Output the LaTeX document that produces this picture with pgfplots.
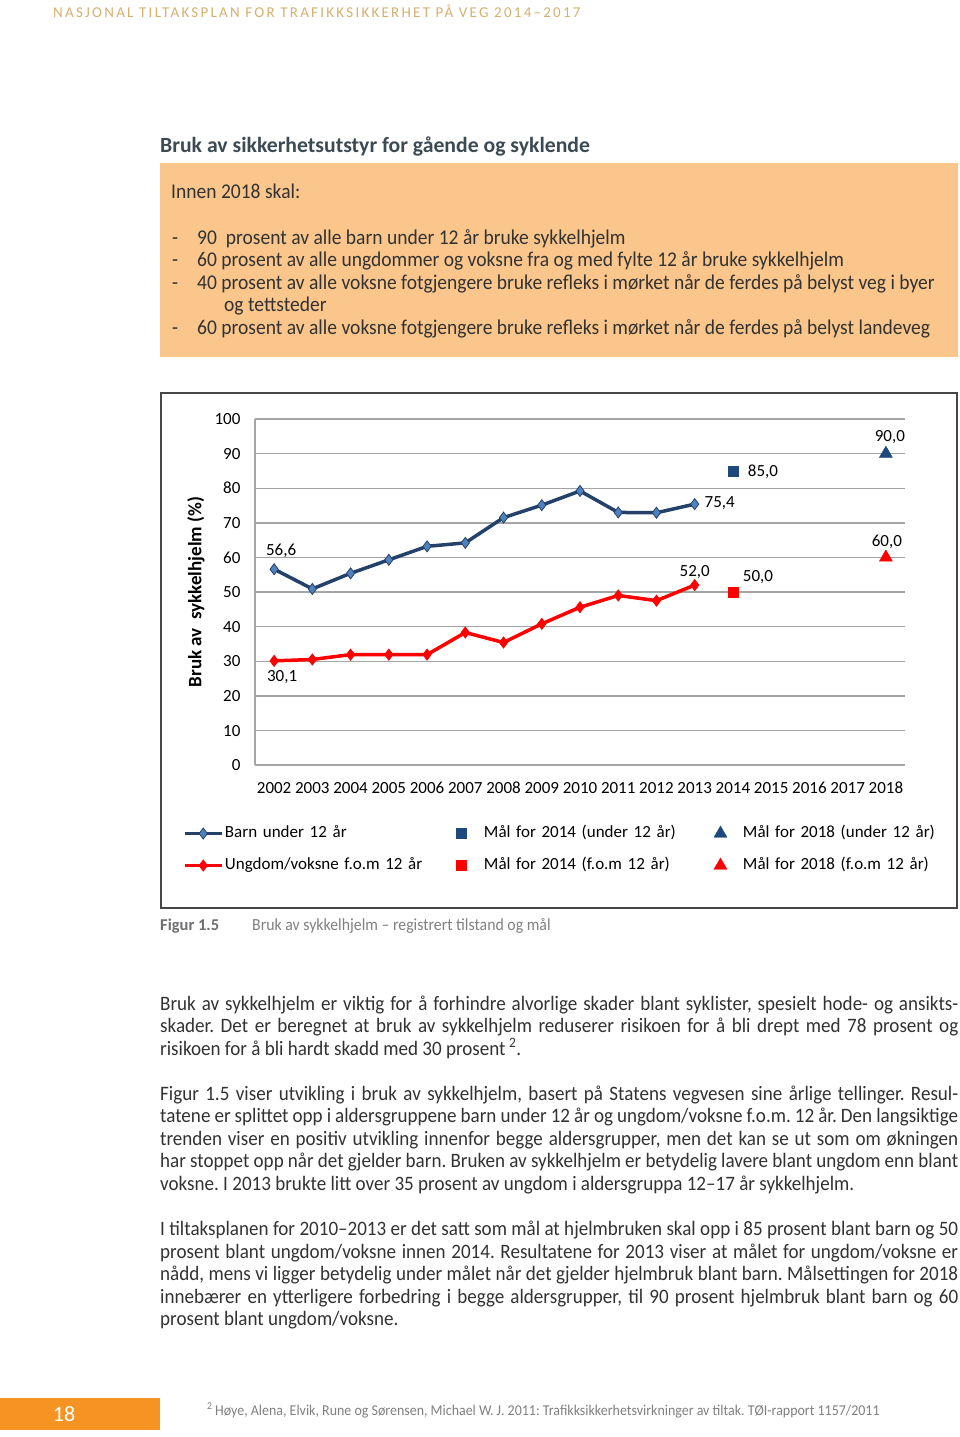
\documentclass[border=0pt]{standalone}
\usepackage{pgfplots}
\pgfplotsset{compat=1.18}
\usepackage{fontspec}
\setmainfont{Carlito}
\newfontfamily\bodyfont[FakeStretch=0.93]{Carlito}
\newfontfamily\headfont[LetterSpace=15]{Carlito}
\newfontfamily\chartfont{Carlito}
\frenchspacing
\definecolor{navy}{RGB}{36,66,105}
\definecolor{steel}{RGB}{79,129,189}
\definecolor{navyM}{RGB}{31,73,125}
\definecolor{boxor}{RGB}{250,198,140}
\definecolor{hdr}{RGB}{214,176,110}
\definecolor{ttl}{RGB}{60,74,84}
\definecolor{txt}{RGB}{50,50,50}
\definecolor{capg}{RGB}{110,110,113}
\definecolor{capl}{RGB}{128,128,130}
\definecolor{footor}{RGB}{245,148,35}
\definecolor{gridg}{RGB}{165,165,165}
\pgfplotsset{
 linelegend/.style={legend image code/.code={\draw[mark repeat=2,mark phase=2,##1] plot coordinates {(0pt,0pt) (18.5pt,0pt) (37pt,0pt)};}},
 marklegend/.style={legend image code/.code={\path[draw=none,fill=none] (0pt,0pt) -- (30pt,0pt); \draw[##1] plot coordinates {(9pt,0pt)};}},
}
\newcommand\bfs{\bodyfont\fontsize{20.5}{24}\selectfont}
\newcommand\xfs{\bodyfont\fontsize{21}{24}\selectfont}
\newcommand\cfs{\chartfont\fontsize{17}{20}\selectfont}
\newcommand\jline[2]{\node[anchor=base west,inner sep=0pt,text=txt,font=\bfs] at (160pt,-#1pt) {\hbox to 798pt{#2}};}
\newcommand\nline[3][160]{\node[anchor=base west,inner sep=0pt,text=txt,font=\bfs] at (#1pt,-#2pt) {#3};}
\newcommand\bline[3][160]{\node[anchor=base west,inner sep=0pt,text=txt,font=\xfs] at (#1pt,-#2pt) {#3};}
\begin{document}
\frenchspacing
\begin{tikzpicture}
\path[use as bounding box, fill=white] (0pt,0pt) rectangle (960pt,-1437pt);
% header
\node[anchor=base west,inner sep=0pt,text=hdr,font=\headfont\fontsize{15}{16}\selectfont] at (53pt,-18pt) {NASJONAL TILTAKSPLAN FOR TRAFIKKSIKKERHET PÅ VEG 2014–2017};
% title
\node[anchor=base west,inner sep=0pt,text=ttl,font=\chartfont\bfseries\fontsize{21.7}{24}\selectfont] at (160pt,-152pt) {Bruk av sikkerhetsutstyr for gående og syklende};
% orange box
\fill[boxor] (160pt,-163pt) rectangle (958pt,-357pt);
\bline[171]{198}{Innen 2018 skal:}
\bline[172]{244}{-}\bline[197]{244}{90\ \ prosent av alle barn under 12 år bruke sykkelhjelm}
\bline[172]{266.5}{-}\bline[197]{266.5}{60 prosent av alle ungdommer og voksne fra og med fylte 12 år bruke sykkelhjelm}
\bline[172]{289}{-}\bline[197]{289}{40 prosent av alle voksne fotgjengere bruke refleks i mørket når de ferdes på belyst veg i byer}
\bline[224]{311.5}{og tettsteder}
\bline[172]{334}{-}\bline[197]{334}{60 prosent av alle voksne fotgjengere bruke refleks i mørket når de ferdes på belyst landeveg}
% chart frame
\draw[black!72, line width=1.6pt] (161pt,-393pt) rectangle (957pt,-908pt);
\begin{axis}[
 at={(255pt,-765pt)}, anchor=south west,
 scale only axis, width=650pt, height=346pt,
 xmin=2001.5, xmax=2018.5, ymin=0, ymax=100,
 xtick={2002,2003,2004,2005,2006,2007,2008,2009,2010,2011,2012,2013,2014,2015,2016,2017,2018},
 xticklabels={2002,2003,2004,2005,2006,2007,2008,2009,2010,2011,2012,2013,2014,2015,2016,2017,2018},
 ytick={0,10,20,30,40,50,60,70,80,90,100},
 yticklabels={0,10,20,30,40,50,60,70,80,90,100},
 major tick length=0pt,
 axis line style={draw=none},
 ymajorgrids, major grid style={gridg, line width=1.4pt},
 ticklabel style={font=\cfs, text=black, text height=11.5pt, text depth=0pt},
 yticklabel style={xshift=-11pt},
 xticklabel style={yshift=-13pt},
 ylabel={Bruk av\ \ sykkelhjelm (\%)},
 every axis y label/.style={at={(axis description cs:-0.0908,0.5)}, rotate=90, anchor=center, font=\chartfont\bfseries\fontsize{19}{22}\selectfont},
 legend columns=3, legend cell align=left,
 legend style={at={(axis description cs:-0.1108,-0.1691)}, anchor=north west, draw=none, fill=none, inner sep=0pt, outer sep=0pt, row sep=12pt, column sep=0pt, font=\cfs, nodes={inner xsep=1.5pt, inner ysep=2pt, text height=12pt, text depth=4pt, text width=226pt, align=left}},
 clip=false,
]
\draw[gridg, line width=1.4pt] (rel axis cs:0,0) -- (rel axis cs:0,1);
\addplot[navy, line width=3.5pt, mark=diamond*, mark size=5.5pt, mark options={fill=steel, draw=navy, line width=0.8pt}, linelegend] coordinates {
(2002,56.6) (2003,50.9) (2004,55.4) (2005,59.3) (2006,63.2) (2007,64.2) (2008,71.5) (2009,75.1) (2010,79.2) (2011,73.0) (2012,72.9) (2013,75.4)};
\addlegendentry{Barn under 12 år}
\addplot[only marks, mark=square*, mark size=5pt, navyM, marklegend] coordinates {(2014,85.0)};
\addlegendentry{Mål for 2014 (under 12 år)}
\addplot[only marks, mark=triangle*, mark size=7.5pt, navyM, marklegend] coordinates {(2018,90.0)};
\addlegendentry{Mål for 2018 (under 12 år)}
\addplot[red, line width=3.5pt, mark=diamond*, mark size=5.5pt, mark options={fill=red, draw=red, line width=0.8pt}, linelegend] coordinates {
(2002,30.1) (2003,30.5) (2004,31.9) (2005,31.9) (2006,31.9) (2007,38.3) (2008,35.4) (2009,40.8) (2010,45.6) (2011,49.0) (2012,47.5) (2013,52.0)};
\addlegendentry{Ungdom/voksne f.o.m 12 år}
\addplot[only marks, mark=square*, mark size=5pt, red, marklegend] coordinates {(2014,50.0)};
\addlegendentry{Mål for 2014 (f.o.m 12 år)}
\addplot[only marks, mark=triangle*, mark size=7.5pt, red, marklegend] coordinates {(2018,60.0)};
\addlegendentry{Mål for 2018 (f.o.m 12 år)}
\begin{scope}[every node/.style={font=\cfs, inner sep=0pt}]
\node[xshift=7pt,yshift=18pt] at (axis cs:2002,56.6) {56,6};
\node[xshift=8pt,yshift=-16pt] at (axis cs:2002,30.1) {30,1};
\node[xshift=25pt,yshift=1pt] at (axis cs:2013,75.4) {75,4};
\node[xshift=0pt,yshift=13pt] at (axis cs:2013,52.0) {52,0};
\node[xshift=30pt,yshift=-1pt] at (axis cs:2014,85.0) {85,0};
\node[xshift=25pt,yshift=15pt] at (axis cs:2014,50.0) {50,0};
\node[xshift=4pt,yshift=17pt] at (axis cs:2018,90.0) {90,0};
\node[xshift=1pt,yshift=16pt] at (axis cs:2018,60.0) {60,0};
\end{scope}
\end{axis}
% caption
\node[anchor=base west,inner sep=0pt,text=capg,font=\chartfont\bfseries\fontsize{16.5}{18}\selectfont] at (160pt,-930pt) {Figur 1.5};
\node[anchor=base west,inner sep=0pt,text=capl,font=\bodyfont\fontsize{17}{18}\selectfont] at (252pt,-930pt) {Bruk av sykkelhjelm – registrert tilstand og mål};
% body
\jline{1010}{Bruk av sykkelhjelm er viktig for å forhindre alvorlige skader blant syklister, spesielt hode- og ansikts-}
\jline{1032.5}{skader. Det er beregnet at bruk av sykkelhjelm reduserer risikoen for å bli drept med 78 prosent og}
\nline{1055}{risikoen for å bli hardt skadd med 30 prosent\,\textsuperscript{2}.}
\jline{1100}{Figur 1.5 viser utvikling i bruk av sykkelhjelm, basert på Statens vegvesen sine årlige tellinger. Resul-}
\jline{1122.5}{tatene er splittet opp i aldersgruppene barn under 12 år og ungdom/voksne f.o.m. 12 år. Den langsiktige}
\jline{1145}{trenden viser en positiv utvikling innenfor begge aldersgrupper, men det kan se ut som om økningen}
\jline{1167.5}{har stoppet opp når det gjelder barn. Bruken av sykkelhjelm er betydelig lavere blant ungdom enn blant}
\nline{1190}{voksne. I 2013 brukte litt over 35 prosent av ungdom i aldersgruppa 12–17 år sykkelhjelm.}
\jline{1235.5}{I tiltaksplanen for 2010–2013 er det satt som mål at hjelmbruken skal opp i 85 prosent blant barn og 50}
\jline{1258}{prosent blant ungdom/voksne innen 2014. Resultatene for 2013 viser at målet for ungdom/voksne er}
\jline{1280.5}{nådd, mens vi ligger betydelig under målet når det gjelder hjelmbruk blant barn. Målsettingen for 2018}
\jline{1303}{innebærer en ytterligere forbedring i begge aldersgrupper, til 90 prosent hjelmbruk blant barn og 60}
\nline{1325.5}{prosent blant ungdom/voksne.}
% footer
\fill[footor] (0pt,-1398pt) rectangle (160pt,-1430pt);
\node[text=white,font=\chartfont\fontsize{22}{24}\selectfont,inner sep=0pt] at (64pt,-1414pt) {18};
\node[anchor=base west,inner sep=0pt,text=capl,font=\bodyfont\fontsize{15}{16}\selectfont] at (207pt,-1415pt) {\textsuperscript{2}\,Høye, Alena, Elvik, Rune og Sørensen, Michael W. J. 2011: Trafikksikkerhetsvirkninger av tiltak. TØI-rapport 1157/2011};
\end{tikzpicture}
\end{document}
